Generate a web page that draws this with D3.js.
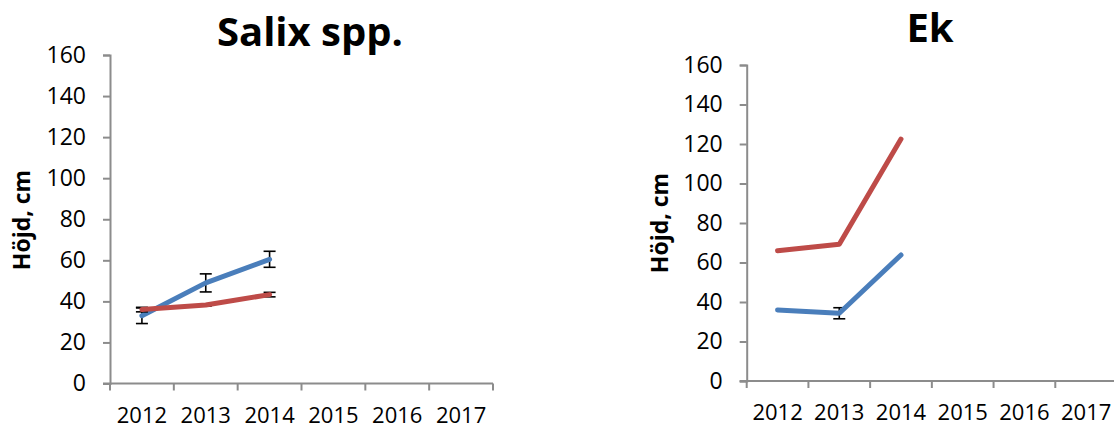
<!DOCTYPE html>
<html><head><meta charset="utf-8">
<script src="https://cdn.jsdelivr.net/npm/d3@7"></script>
<style>body{margin:0;background:#fff}svg{display:block}</style>
</head><body>
<svg id="c" width="1114" height="429"></svg>
<script>
const years = ["2012","2013","2014","2015","2016","2017"];
const yTicks = [0,20,40,60,80,100,120,140,160];

const salixTitle = "Salix spp.";
const salixBlue = [33, 49, 60.5];
const salixBlueErr = [3.8, 4.4, 3.9];
const salixRed = [36, 38.2, 43.3];
const salixRedErr = [1.1, 0.5, 1.1];

const ekTitle = "Ek";
const ekBlue = [36, 34.3, 63.8];
const ekBlueErr = [0, 2.8, 0];
const ekRed = [66, 69.2, 122.5];
const ekRedErr = [0, 0, 0];

const yLabel = "Höjd, cm";
const BLUE = "#4a7ebb", RED = "#be4b48", AXIS = "#8c8c8c";
const FONT = "'Open Sans', 'Liberation Sans', sans-serif";

const svg = d3.select("#c");

function chart(cfg) {
  const g = svg.append("g");
  const x = d3.scaleBand().domain(years).range(cfg.xr).padding(0);
  const y = d3.scaleLinear().domain([0,160]).range(cfg.yr);

  // y axis
  const ya = d3.axisLeft(y).tickValues(yTicks).tickSize(7).tickPadding(17);
  const yg = g.append("g").attr("transform", `translate(${cfg.xr[0]},0)`).call(ya);
  yg.select(".domain").attr("stroke", AXIS).attr("stroke-width", 2);
  yg.selectAll(".tick line").attr("stroke", AXIS).attr("stroke-width", 2);
  yg.selectAll(".tick text").attr("font-family", FONT).attr("font-size", 23).attr("fill", "#000");

  // x axis
  const xa = d3.axisBottom(x).tickSize(0).tickPadding(cfg.xpad);
  const xg = g.append("g").attr("transform", `translate(0,${cfg.yr[0]})`).call(xa);
  xg.select(".domain").attr("stroke", AXIS).attr("stroke-width", 2).attr("d", `M${cfg.xr[0]-7},0H${cfg.xr[1]}`);
  xg.selectAll(".tick text").attr("font-family", FONT).attr("font-size", 22).attr("fill", "#000");
  const edges = years.map(d => x(d)).concat([x.range()[1]]);
  xg.selectAll("line.edge").data(edges).enter().append("line")
    .attr("class","edge").attr("x1", d=>d).attr("x2", d=>d).attr("y1",0).attr("y2",7)
    .attr("stroke", AXIS).attr("stroke-width", 2);

  // title
  g.append("text").attr("x", cfg.tx).attr("y", cfg.ty).attr("text-anchor","middle")
    .attr("font-family", FONT).attr("font-weight","bold").attr("font-size", 40).text(cfg.title);
  // y label
  g.append("text").attr("transform", `translate(${cfg.lx},${cfg.ly}) rotate(-90)`)
    .attr("text-anchor","middle").attr("font-family", FONT).attr("font-weight","bold")
    .attr("font-size", 23).text(yLabel);

  const cx = d => x(d) + x.bandwidth()/2;
  const line = d3.line().x((d,i)=>cx(years[i])).y(d=>y(d));

  function series(vals, errs, color) {
    const eg = g.append("g");
    vals.forEach((v,i) => {
      const e = errs[i];
      if (!e) return;
      const xc = cx(years[i]);
      eg.append("line").attr("x1",xc).attr("x2",xc).attr("y1",y(v-e)).attr("y2",y(v+e)).attr("stroke","#000").attr("stroke-width",1.6);
      [v-e, v+e].forEach(t => eg.append("line").attr("x1",xc-6).attr("x2",xc+6).attr("y1",y(t)).attr("y2",y(t)).attr("stroke","#000").attr("stroke-width",1.6));
    });
    g.append("path").attr("d", line(vals)).attr("fill","none").attr("stroke",color)
      .attr("stroke-width",5).attr("stroke-linecap","round").attr("stroke-linejoin","round");
  }
  series(cfg.blue, cfg.blueErr, BLUE);
  series(cfg.red, cfg.redErr, RED);
}

chart({title: salixTitle, xr:[110,493], yr:[383.5,55], tx:310, ty:46, lx:30, ly:220, xpad:23.5,
  blue: salixBlue, blueErr: salixBlueErr, red: salixRed, redErr: salixRedErr});
chart({title: ekTitle, xr:[746.7,1117], yr:[381,65], tx:930, ty:42, lx:668, ly:223, xpad:23.5,
  blue: ekBlue, blueErr: ekBlueErr, red: ekRed, redErr: ekRedErr});
</script>
</body></html>
